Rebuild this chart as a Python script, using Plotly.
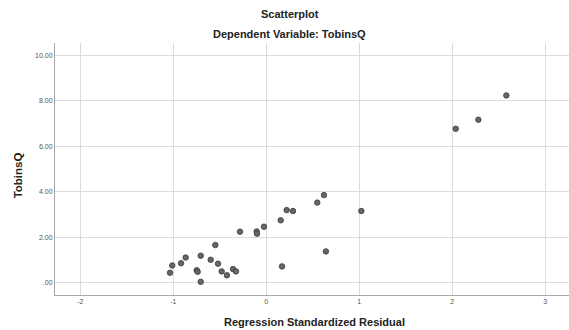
import plotly.graph_objects as go

residual = [-1.035, -1.011, -0.917, -0.867, -0.748, -0.738, -0.705, -0.705, -0.598, -0.548,
            -0.519, -0.480, -0.423, -0.358, -0.326, -0.283, -0.103, -0.100, -0.025, 0.169,
            0.155, 0.219, 0.287, 0.548, 0.620, 0.641, 1.022, 2.037, 2.280, 2.581]
tobinsq = [0.43, 0.75, 0.85, 1.10, 0.54, 0.47, 0.03, 1.18, 1.00, 1.65,
           0.83, 0.49, 0.32, 0.59, 0.49, 2.24, 2.25, 2.15, 2.46, 0.71,
           2.74, 3.19, 3.15, 3.52, 3.85, 1.37, 3.15, 6.77, 7.17, 8.24]

x_ticks = [-2, -1, 0, 1, 2, 3]
x_tick_labels = ["-2", "-1", "0", "1", "2", "3"]
y_ticks = [0, 2, 4, 6, 8, 10]
y_tick_labels = [".00", "2.00", "4.00", "6.00", "8.00", "10.00"]

title_text = "Scatterplot"
subtitle_text = "Dependent Variable: TobinsQ"
x_title = "Regression Standardized Residual"
y_title = "TobinsQ"

FONT = "Liberation Sans, Arial, sans-serif"

fig = go.Figure()
fig.add_trace(go.Scatter(
    x=residual, y=tobinsq, mode="markers",
    marker=dict(size=5.5, color="#666666", line=dict(color="#3a3a3a", width=0.8)),
    hoverinfo="x+y", showlegend=False,
))

fig.update_layout(
    template="none",
    width=569, height=330,
    margin=dict(l=55, r=0, t=43, b=35, pad=0),
    paper_bgcolor="white", plot_bgcolor="white",
    font=dict(family=FONT, size=7, color="#555555"),
    xaxis=dict(
        range=[-2.272, 3.255], tickvals=x_ticks, ticktext=x_tick_labels,
        showgrid=True, gridcolor="#dcdcdc", gridwidth=1,
        zeroline=False, showline=True, linecolor="#a8a8a8", linewidth=1,
        ticks="", tickfont=dict(size=7, color="#555555"), automargin=False,
    ),
    yaxis=dict(
        range=[-0.55, 10.55], tickvals=y_ticks, ticktext=y_tick_labels,
        showgrid=True, gridcolor="#dcdcdc", gridwidth=1,
        zeroline=False, showline=True, linecolor="#a8a8a8", linewidth=1,
        ticks="", tickfont=dict(size=7, color="#555555"), automargin=False,
    ),
    annotations=[
        dict(text="<b>%s</b>" % title_text, x=0.457, y=1.115, xref="paper", yref="paper",
             showarrow=False, font=dict(size=11, color="#222222", family=FONT),
             xanchor="center", yanchor="middle"),
        dict(text="<b>%s</b>" % subtitle_text, x=0.457, y=1.034, xref="paper", yref="paper",
             showarrow=False, font=dict(size=11, color="#222222", family=FONT),
             xanchor="center", yanchor="middle"),
        dict(text="<b>%s</b>" % x_title, x=0.504, y=-0.106, xref="paper", yref="paper",
             showarrow=False, font=dict(size=11, color="#222222", family=FONT),
             xanchor="center", yanchor="middle"),
        dict(text="<b>%s</b>" % y_title, x=-0.0714, y=0.476, xref="paper", yref="paper",
             showarrow=False, textangle=-90, font=dict(size=11.5, color="#222222", family=FONT),
             xanchor="center", yanchor="middle"),
    ],
)

fig.write_html("out.html", config={"displayModeBar": False},
               post_script="document.body.style.margin='0';document.body.style.padding='0';")
